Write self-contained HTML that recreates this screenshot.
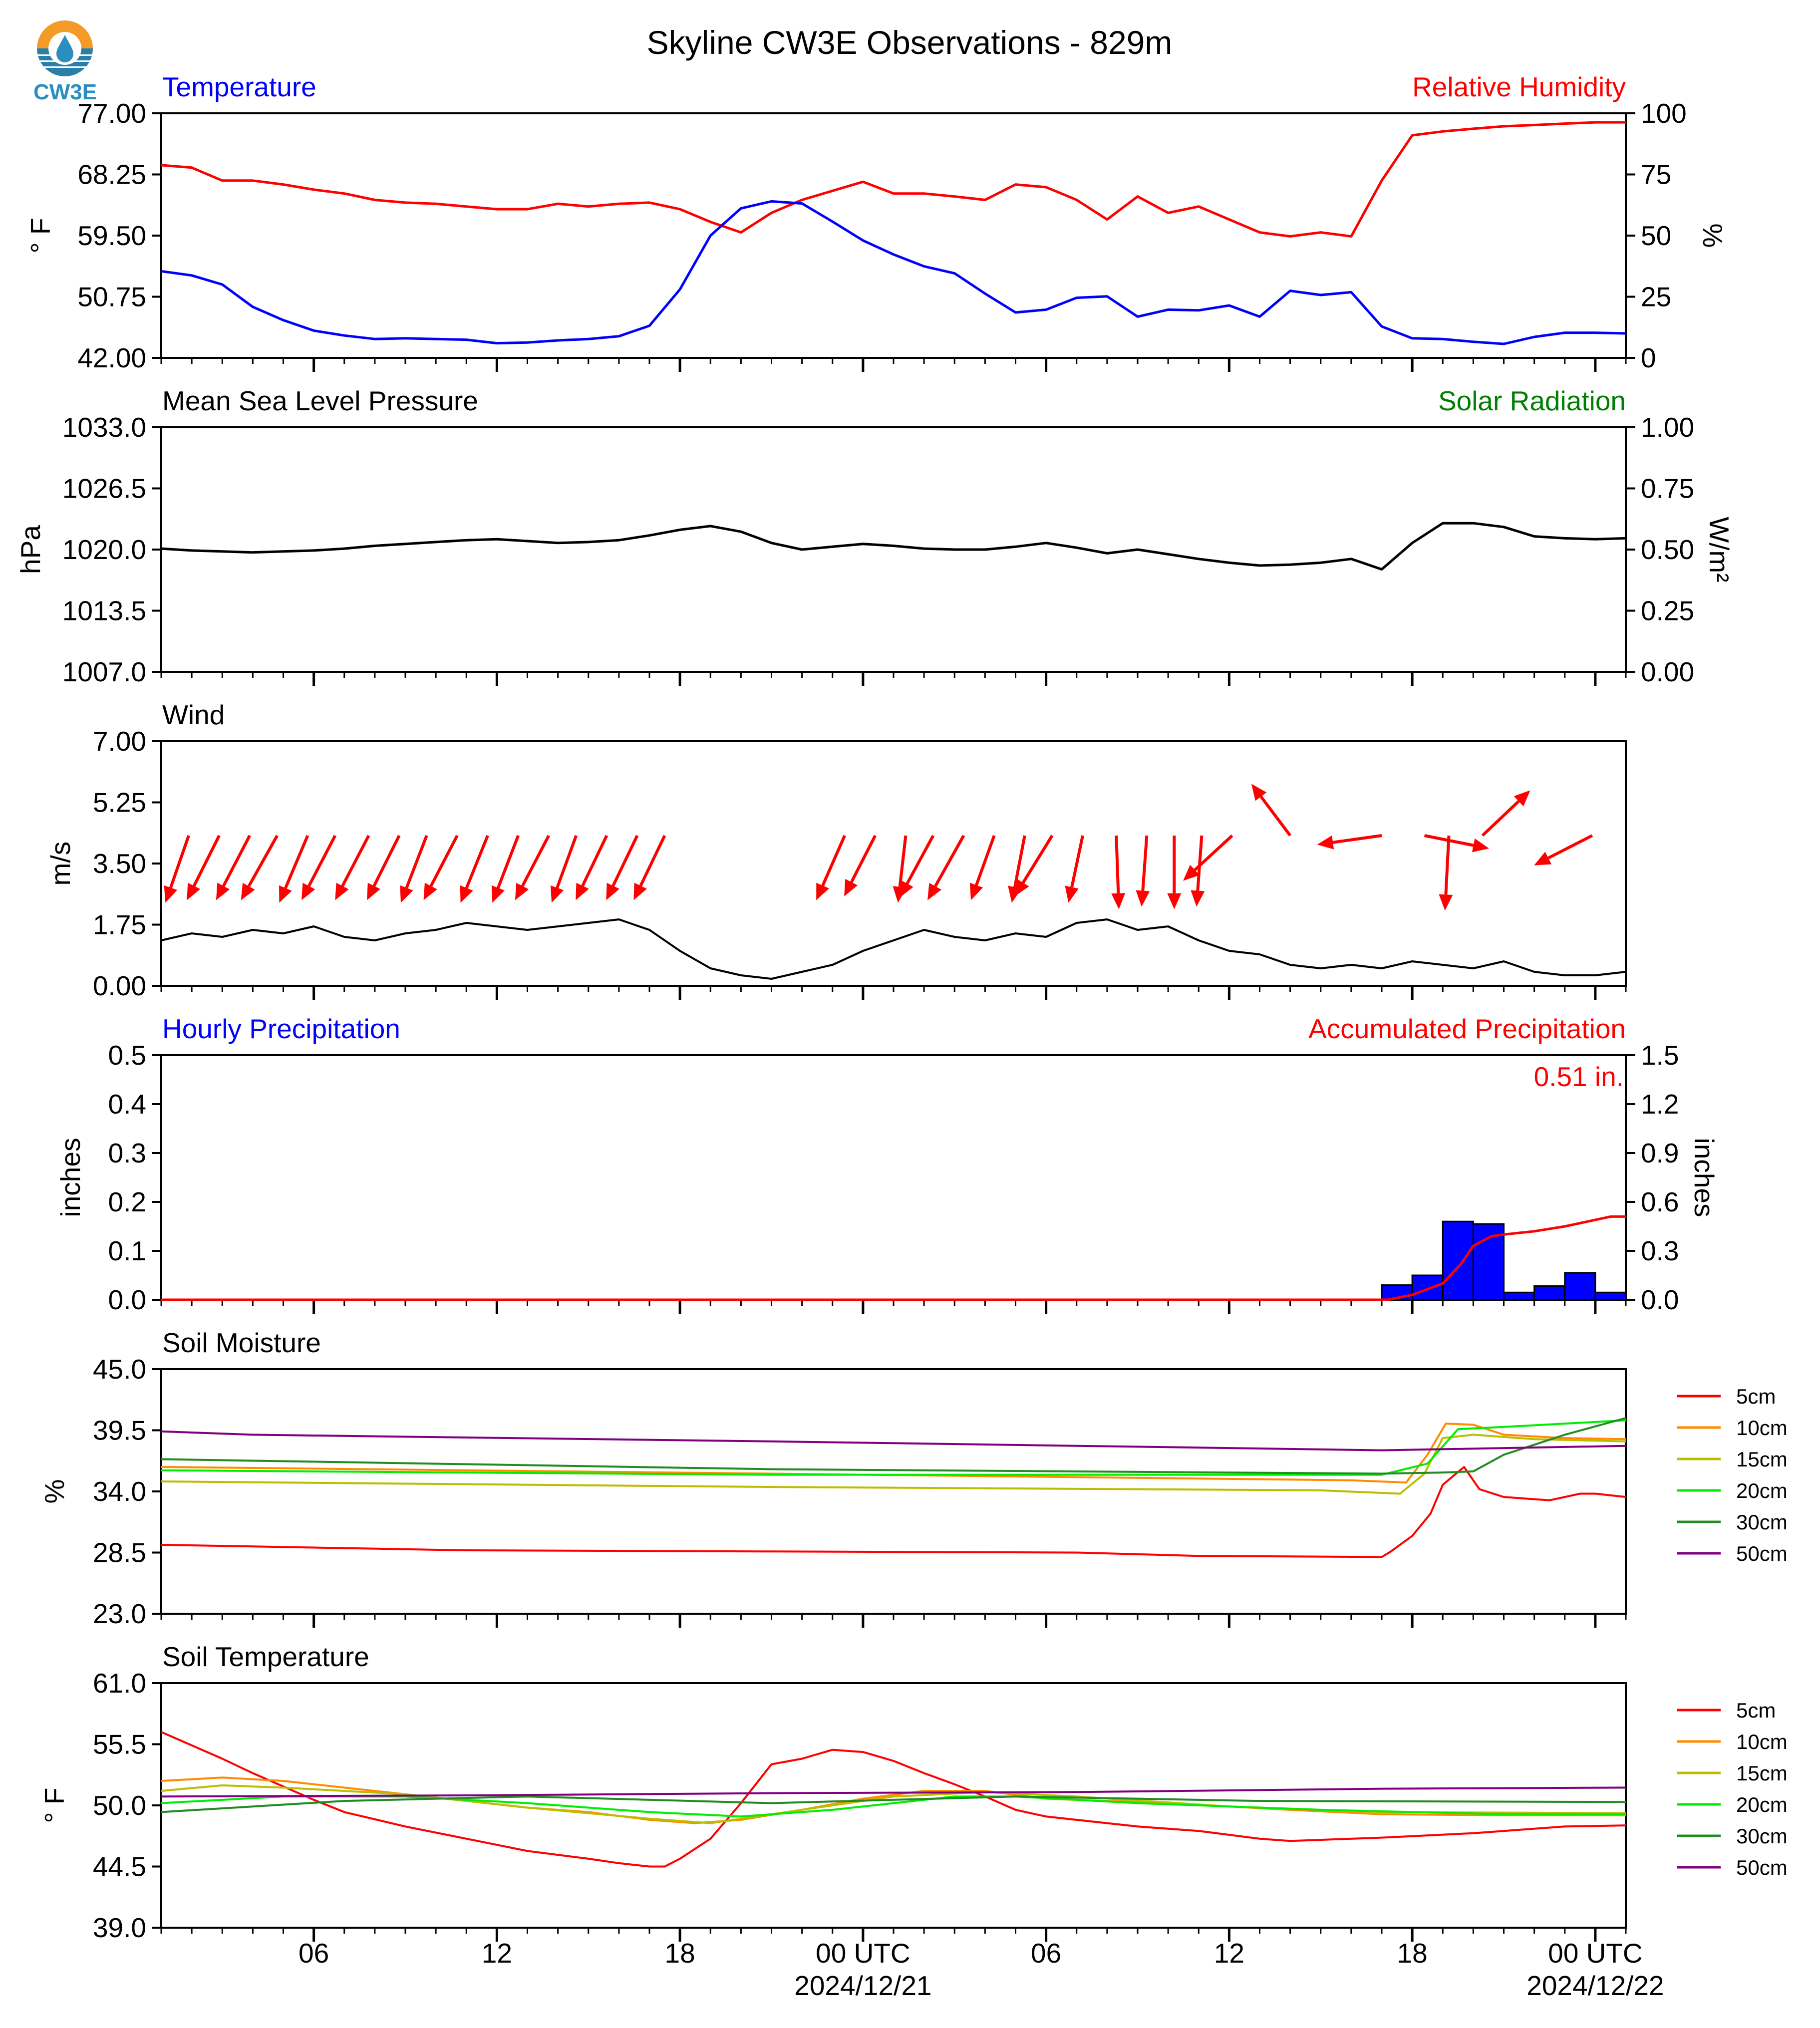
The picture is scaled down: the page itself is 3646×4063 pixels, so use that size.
<!DOCTYPE html>
<html><head><meta charset="utf-8"><title>Skyline CW3E Observations</title>
<style>
html,body{margin:0;padding:0;background:#fff;}
svg{display:block;font-family:"Liberation Sans",Arial,sans-serif;}
</style></head>
<body>
<svg id="chart" xmlns="http://www.w3.org/2000/svg" width="3646" height="4063" viewBox="0 0 3646 4063">
  <rect x="0" y="0" width="3646" height="4063" fill="#fff"/>
  <g>
    <path d="M74,97 A56,56 0 0 1 186,97 Z" fill="#f39a27"/>
    <path d="M74,97 A56,56 0 0 0 186,97 Z" fill="#2a7fa8"/>
    <rect x="74" y="109" width="112" height="3" fill="#fff"/>
    <rect x="74" y="121" width="112" height="3" fill="#fff"/>
    <rect x="74" y="133" width="112" height="3" fill="#fff"/>
    <circle cx="130" cy="97" r="33" fill="#fff"/>
    <path d="M130,70 C121,88 113,98 113,108 A17,17 0 0 0 147,108 C147,98 139,88 130,70 Z" fill="#2a8fbf"/>
    <text x="67" y="199" font-size="44" font-weight="bold" fill="#2a8fbf">CW3E</text>
  </g>
  <text x="1822" y="108" font-size="66" text-anchor="middle" fill="#000">Skyline CW3E Observations - 829m</text>
  <g id="plots"></g>
</svg>
<script>
// ---------- data ----------
const hours = [0,1,2,3,4,5,6,7,8,9,10,11,12,13,14,15,16,17,18,19,20,21,22,23,24,25,26,27,28,29,30,31,32,33,34,35,36,37,38,39,40,41,42,43,44,45,46,47,48];
const tempF = [54.4,53.8,52.5,49.3,47.4,45.9,45.2,44.7,44.8,44.7,44.6,44.1,44.2,44.5,44.7,45.1,46.6,51.8,59.5,63.4,64.4,64.1,61.5,58.8,56.8,55.1,54.1,51.2,48.5,48.9,50.6,50.8,47.9,48.9,48.8,49.5,47.9,51.6,51.0,51.4,46.5,44.8,44.7,44.3,44.0,45.0,45.6,45.6,45.5];
const relHum = [78.8,77.8,72.5,72.5,70.9,68.8,67.2,64.6,63.5,63.0,61.9,60.8,60.8,63.0,61.9,63.0,63.5,60.8,55.6,51.3,59.3,64.6,68.3,72.0,67.2,67.2,66.0,64.6,70.9,69.8,64.6,56.6,66.0,59.3,61.9,56.6,51.3,49.7,51.3,49.7,72.5,91.0,92.6,93.7,94.7,95.2,95.8,96.3,96.3];
const mslp = [1020.1,1019.9,1019.8,1019.7,1019.8,1019.9,1020.1,1020.4,1020.6,1020.8,1021.0,1021.1,1020.9,1020.7,1020.8,1021.0,1021.5,1022.1,1022.5,1021.9,1020.7,1020.0,1020.3,1020.6,1020.4,1020.1,1020.0,1020.0,1020.3,1020.7,1020.2,1019.6,1020.0,1019.5,1019.0,1018.6,1018.3,1018.4,1018.6,1019.0,1017.9,1020.7,1022.8,1022.8,1022.4,1021.4,1021.2,1021.1,1021.2];
const windSpd = [1.3,1.5,1.4,1.6,1.5,1.7,1.4,1.3,1.5,1.6,1.8,1.7,1.6,1.7,1.8,1.9,1.6,1.0,0.5,0.3,0.2,0.4,0.6,1.0,1.3,1.6,1.4,1.3,1.5,1.4,1.8,1.9,1.6,1.7,1.3,1.0,0.9,0.6,0.5,0.6,0.5,0.7,0.6,0.5,0.7,0.4,0.3,0.3,0.4];
const arrowTimes = [0.9,1.9,2.9,3.8,4.8,5.7,6.8,7.8,8.7,9.7,10.7,11.7,12.7,13.6,14.6,15.6,16.5,22.4,23.4,24.4,25.3,26.3,27.3,28.3,29.2,30.2,31.3,32.3,33.2,34.1,35.1,37.0,40.0,41.4,42.2,43.3,46.9];
const arrowU = [-1.8,-2.5,-2.6,-2.8,-2.2,-2.6,-2.6,-2.5,-2.0,-2.6,-2.1,-2.0,-2.6,-1.9,-2.4,-2.4,-2.4,-2.2,-2.4,-0.6,-2.6,-2.8,-1.8,-1.0,-2.9,-1.1,0.2,-0.4,0.0,-0.4,-3.8,-3.0,-5.0,5.0,-0.3,3.7,-4.5];
const arrowV = [-5.2,-5.0,-5.0,-5.0,-5.2,-5.0,-5.0,-5.0,-5.2,-5.0,-5.2,-5.2,-5.0,-5.2,-5.0,-5.0,-5.0,-5.0,-4.7,-5.2,-4.8,-5.0,-5.0,-5.2,-4.7,-5.2,-5.7,-5.5,-5.7,-5.5,-3.5,4.0,-0.7,-1.0,-5.8,3.5,-2.3];
const precipHours = [40,41,42,43,44,45,46,47];
const precipHourly = [0.03,0.05,0.16,0.155,0.015,0.028,0.055,0.015];
const accumTimes = [0,40.2,41,42,42.6,43,43.6,44,45,46,47,47.5,48];
const accumVals = [0,0,0.03,0.1,0.22,0.33,0.39,0.40,0.42,0.45,0.49,0.51,0.51];
const soilLabels = ['5cm','10cm','15cm','20cm','30cm','50cm'];
const soilColors = ['#ff0000','#ff8c00','#bdbd00','#00ee00','#228b22','#800080'];
const smT = [[0,10,20,30,34,40,40.3,41,41.6,42,42.7,43.2,44,45.5,46.5,47,48],
             [0,20,39,40.8,41.5,42.1,43,44,46,48],
             [0,20,38,40.6,41.4,42,43,45,48],
             [0,20,40,41.5,42.5,44,48],
             [0,20,40,42,43,44,46,48],
             [0,3,20,35,40,48]];
const smV = [[29.2,28.7,28.6,28.5,28.2,28.1,28.6,30.0,32.0,34.6,36.2,34.2,33.5,33.2,33.8,33.8,33.5],
             [36.2,35.6,35.0,34.8,37.3,40.1,40.0,39.1,38.8,38.7],
             [34.9,34.4,34.1,33.8,35.6,38.8,39.1,38.7,38.5],
             [35.9,35.5,35.5,36.5,39.6,39.8,40.4],
             [36.9,36.0,35.6,35.7,35.8,37.3,39.1,40.6],
             [39.4,39.1,38.5,37.9,37.7,38.1]];
const stT = [[0,1,2,3,4,5,6,8,10,12,14,15,16,16.5,17,18,19,20,21,22,23,24,25,26,27,28,29,31,32,34,36,37,40,43,44,46,48],
             [0,2,4,6,8,10,12,14,16,17.5,19,21,23,25,27,29,33,37,40,44,48],
             [0,2,4,8,12,16,18,21,24,27,30,35,40,48],
             [0,4,8,12,16,19,22,26,28,32,38,44,48],
             [0,6,12,20,28,36,48],
             [0,10,20,30,40,48]];
const stV = [[56.6,55.4,54.2,52.9,51.7,50.5,49.4,48.1,47.0,45.9,45.2,44.8,44.5,44.5,45.2,47.0,50.2,53.7,54.2,55.0,54.8,54.0,52.9,51.9,50.8,49.6,49.0,48.4,48.1,47.7,47.0,46.8,47.1,47.5,47.7,48.1,48.2],
             [52.2,52.5,52.2,51.6,51.0,50.4,49.8,49.4,48.7,48.4,48.7,49.6,50.6,51.3,51.3,50.6,50.2,49.6,49.2,49.1,49.1],
             [51.3,51.8,51.6,51.0,49.8,48.8,48.4,49.6,50.8,51.2,50.8,49.9,49.4,49.3],
             [50.2,50.8,50.8,50.2,49.4,49.0,49.6,50.8,50.8,50.2,49.6,49.2,49.2],
             [49.4,50.4,50.8,50.2,50.8,50.4,50.3],
             [50.8,50.9,51.1,51.2,51.5,51.6]];
const xTickHours = [5,11,17,23,29,35,41,47];
const xTickLabels = ['06','12','18','00 UTC','06','12','18','00 UTC'];
const xTickDates = ['','','','2024/12/21','','','','2024/12/22'];
const tTempTicks = [42,50.75,59.5,68.25,77];
const tRHTicks = [0,25,50,75,100];
const pTicks = [1007,1013.5,1020,1026.5,1033];
const solTicks = [0,0.25,0.5,0.75,1.0];
const wTicks = [0,1.75,3.5,5.25,7];
const prTicks = [0,0.1,0.2,0.3,0.4,0.5];
const acTicks = [0,0.3,0.6,0.9,1.2,1.5];
const smTicks = [23,28.5,34,39.5,45];
const stTicks = [39,44.5,50,55.5,61];

// ---------- layout ----------
const NS = 'http://www.w3.org/2000/svg';
const L = 323, R = 3257, H = 490;
const FS = 55;
const tops = [227,856,1485,2114,2743,3372];
const root = document.getElementById('plots');
function X(t){ return L + t * (R - L) / 48; }
function Yf(i, lo, hi){ return v => tops[i] + H - (v - lo) / (hi - lo) * H; }
function mk(tag, parent){ const e = document.createElementNS(NS, tag); parent.appendChild(e); return e; }
function set(e, o){ for (const k in o) e.setAttribute(k, o[k]); }
function txt(parent, s, x, y, size, color, anchor, rot){
  const e = mk('text', parent);
  set(e, {x:x, y:y, 'font-size':size, fill:color||'#000', 'text-anchor':anchor||'start'});
  if (rot) e.setAttribute('transform', 'rotate(' + rot + ' ' + x + ' ' + y + ')');
  e.textContent = s;
  return e;
}
function poly(parent, ts, vs, y, color, w){
  const p = mk('path', parent);
  let d = '';
  for (let k = 0; k < ts.length; k++) d += (k ? 'L' : 'M') + X(ts[k]).toFixed(1) + ',' + y(vs[k]).toFixed(1);
  set(p, {d:d, fill:'none', stroke:color, 'stroke-width':w||5, 'stroke-linejoin':'round'});
  return p;
}
function frame(i, name){
  const g = mk('g', root);
  
  
  const r = mk('rect', g);
  set(r, {x:L, y:tops[i], width:R-L, height:H, fill:'none', stroke:'#000', 'stroke-width':4});
  
  
  const xt = mk('g', g);
  
  
  for (let h = 0; h <= 48; h++) {
    const major = (h - 5) % 6 === 0;
    const ln = mk('line', xt);
    set(ln, {x1:X(h), x2:X(h), y1:tops[i]+H, y2:tops[i]+H+(major?28:12), stroke:'#000', 'stroke-width':major?5:3});
  }
  return g;
}
function yAxis(g, i, ticks, lo, hi, dec, side, name){
  const y = Yf(i, lo, hi);
  const a = mk('g', g);
  
  
  ticks.forEach(v => {
    const ln = mk('line', a);
    if (side === 'left') set(ln, {x1:L-19, x2:L, y1:y(v), y2:y(v), stroke:'#000', 'stroke-width':4});
    else set(ln, {x1:R, x2:R+19, y1:y(v), y2:y(v), stroke:'#000', 'stroke-width':4});
    const s = dec === 0 ? String(v) : v.toFixed(dec);
    if (side === 'left') txt(a, s, L-30, y(v)+19, FS, '#000', 'end');
    else txt(a, s, R+30, y(v)+19, FS, '#000', 'start');
  });
  return y;
}
function title(g, i, s, color, right, name){
  const t = txt(g, s, right ? R : L+2, tops[i]-34, FS, color, right ? 'end' : 'start');
  
  
}
function axLabel(g, s, x, i, rot, name){
  const t = txt(g, s, x, tops[i]+H/2, FS, '#000', 'middle', rot);
  
  
}

// ---------- panel 0: temperature / RH ----------
{
  const g = frame(0, 'temperature-panel');
  const yT = yAxis(g, 0, tTempTicks, 42, 77, 2, 'left', 'temperature-y-axis');
  const yR = yAxis(g, 0, tRHTicks, 0, 100, 0, 'right', 'humidity-y-axis');
  title(g, 0, 'Temperature', '#0000ff', false, 'temperature-title');
  title(g, 0, 'Relative Humidity', '#ff0000', true, 'humidity-title');
  axLabel(g, '° F', 100, 0, -90, 'temperature-y-axis-title');
  axLabel(g, '%', 3412, 0, 90, 'humidity-y-axis-title');
  const rh = poly(g, hours, relHum, yR, '#ff0000');
  
  
  const tl = poly(g, hours, tempF, yT, '#0000ff');
  
  
}
// ---------- panel 1: pressure ----------
{
  const g = frame(1, 'pressure-panel');
  const yP = yAxis(g, 1, pTicks, 1007, 1033, 1, 'left', 'pressure-y-axis');
  yAxis(g, 1, solTicks, 0, 1, 2, 'right', 'solar-y-axis');
  title(g, 1, 'Mean Sea Level Pressure', '#000', false, 'pressure-title');
  title(g, 1, 'Solar Radiation', '#008000', true, 'solar-title');
  axLabel(g, 'hPa', 80, 1, -90, 'pressure-y-axis-title');
  axLabel(g, 'W/m²', 3425, 1, 90, 'solar-y-axis-title');
  const pl = poly(g, hours, mslp, yP, '#000');
  
  
}
// ---------- panel 2: wind ----------
{
  const g = frame(2, 'wind-panel');
  const yW = yAxis(g, 2, wTicks, 0, 7, 2, 'left', 'wind-y-axis');
  title(g, 2, 'Wind', '#000', false, 'wind-title');
  axLabel(g, 'm/s', 140, 2, -90, 'wind-y-axis-title');
  const wl = poly(g, hours, windSpd, yW, '#000', 4);
  
  
  const ay = yW(4.3), sc = 25.9;
  arrowTimes.forEach((t, k) => {
    const a = mk('g', g);
    
    
    const x0 = X(t), y0 = ay, x1 = x0 + arrowU[k]*sc, y1 = y0 - arrowV[k]*sc;
    const len = Math.hypot(x1-x0, y1-y0), ux = (x1-x0)/len, uy = (y1-y0)/len;
    const hl = 32, hw = 14;
    const bx = x1 - ux*hl, by = y1 - uy*hl;
    const ln = mk('line', a);
    set(ln, {x1:x0, y1:y0, x2:bx, y2:by, stroke:'#ff0000', 'stroke-width':6});
    const hd = mk('polygon', a);
    set(hd, {points: x1+','+y1+' '+(bx - uy*hw)+','+(by + ux*hw)+' '+(bx + uy*hw)+','+(by - ux*hw), fill:'#ff0000'});
  });
}
// ---------- panel 3: precipitation ----------
{
  const g = frame(3, 'precip-panel');
  const yP = yAxis(g, 3, prTicks, 0, 0.5, 1, 'left', 'precip-y-axis');
  const yA = yAxis(g, 3, acTicks, 0, 1.5, 1, 'right', 'accum-y-axis');
  title(g, 3, 'Hourly Precipitation', '#0000ff', false, 'precip-title');
  title(g, 3, 'Accumulated Precipitation', '#ff0000', true, 'accum-title');
  axLabel(g, 'inches', 160, 3, -90, 'precip-y-axis-title');
  axLabel(g, 'inches', 3395, 3, 90, 'accum-y-axis-title');
  const tot = txt(g, accumVals[accumVals.length-1].toFixed(2) + ' in.', R-4, tops[3]+62, FS, '#ff0000', 'end');
  
  
  precipHours.forEach((h, k) => {
    const b = mk('rect', g);
    set(b, {x:X(h), y:yP(precipHourly[k]), width:X(h+1)-X(h), height:yP(0)-yP(precipHourly[k]), fill:'#0000ff', stroke:'#000', 'stroke-width':3});
    
    
  });
  const al = poly(g, accumTimes, accumVals, yA, '#ff0000');
  
  
}
// ---------- panels 4,5: soil ----------
function soilPanel(i, name, ttl, ticks, lo, hi, ts, vs, ylab){
  const g = frame(i, name);
  const y = yAxis(g, i, ticks, lo, hi, 1, 'left', name + '-y-axis');
  title(g, i, ttl, '#000', false, name + '-title');
  axLabel(g, ylab, 128, i, -90, name + '-y-axis-title');
  ts.forEach((t, k) => {
    const p = poly(g, t, vs[k], y, soilColors[k], 4);
    
    
    const ly = tops[i] + 54 + k * 63;
    const le = mk('g', g);
    
    
    const ln = mk('line', le);
    set(ln, {x1:3359, x2:3447, y1:ly, y2:ly, stroke:soilColors[k], 'stroke-width':5});
    txt(le, soilLabels[k], 3478, ly + 15, 42, '#000', 'start');
  });
}
soilPanel(4, 'soil-moisture-panel', 'Soil Moisture', smTicks, 23, 45, smT, smV, '%');
soilPanel(5, 'soil-temp-panel', 'Soil Temperature', stTicks, 39, 61, stT, stV, '° F');

// ---------- x tick labels ----------
{
  const g = mk('g', root);
  
  
  xTickHours.forEach((h, k) => {
    txt(g, xTickLabels[k], X(h), 3932, FS, '#000', 'middle');
    if (xTickDates[k]) txt(g, xTickDates[k], X(h), 3997, FS, '#000', 'middle');
  });
}
</script>
</body></html>
